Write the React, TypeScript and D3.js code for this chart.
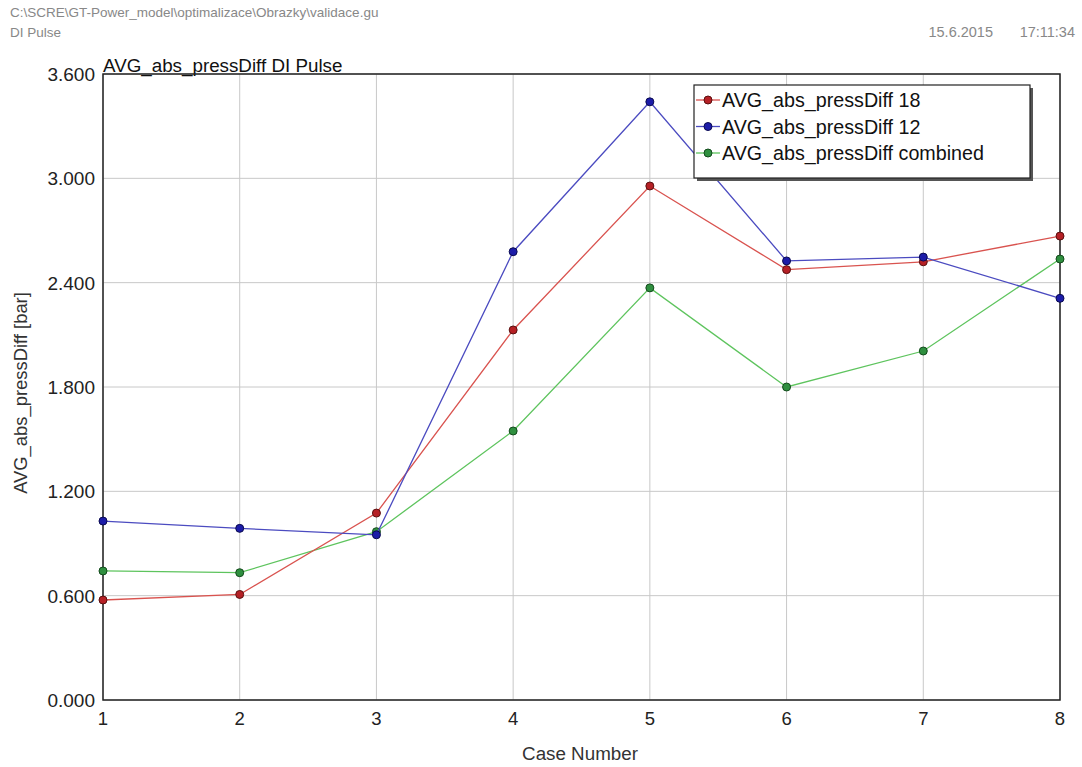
import React from "react";
import * as d3 from "d3";

const cases = [1, 2, 3, 4, 5, 6, 7, 8];
const series18 = [0.575, 0.607, 1.075, 2.128, 2.956, 2.475, 2.52, 2.668];
const series12 = [1.029, 0.987, 0.95, 2.578, 3.44, 2.525, 2.547, 2.31];
const seriesCombined = [0.742, 0.732, 0.968, 1.547, 2.37, 1.8, 2.007, 2.536];
const yTicks = [0, 0.6, 1.2, 1.8, 2.4, 3.0, 3.6];
const seriesNames = ["AVG_abs_pressDiff 18", "AVG_abs_pressDiff 12", "AVG_abs_pressDiff combined"];

const W = 1082;
const H = 767;
const left = 103, right = 1060, top = 74, bottom = 700;
const FONT = "Liberation Sans, Arial, sans-serif";

export default function App() {
  const x = d3.scaleLinear().domain([1, 8]).range([left, right]);
  const y = d3.scaleLinear().domain([0, 3.6]).range([bottom, top]);
  const line = d3.line<number>().x((_, i) => x(cases[i])).y((d) => y(d));

  const series = [
    { name: seriesNames[0], values: series18, line: "#d9534f", fill: "#b52025", stroke: "#5a1010" },
    { name: seriesNames[1], values: series12, line: "#4b4bc0", fill: "#1c1ca8", stroke: "#0a0a50" },
    { name: seriesNames[2], values: seriesCombined, line: "#5ec45e", fill: "#2f8f3f", stroke: "#134a1c" },
  ];
  const drawOrder = [2, 0, 1];

  const legX = 694, legY = 85, legW = 336, legH = 93;

  return (
    <svg width={W} height={H} style={{ position: "absolute", left: 0, top: 0, background: "#fff" }} fontFamily={FONT}>
      <rect x={0} y={0} width={W} height={H} fill="#fff" />
      <text x={10} y={17} fontSize={13.5} fill="#888">C:\SCRE\GT-Power_model\optimalizace\Obrazky\validace.gu</text>
      <text x={10} y={37} fontSize={13.5} fill="#888">DI Pulse</text>
      <text x={993} y={37} fontSize={14.5} fill="#888" textAnchor="end">15.6.2015</text>
      <text x={1075} y={37} fontSize={14.5} fill="#888" textAnchor="end">17:11:34</text>

      {/* grid */}
      {yTicks.map((t) => (
        <line key={"gy" + t} x1={left} x2={right} y1={y(t)} y2={y(t)} stroke="#c8c8c8" strokeWidth={1} />
      ))}
      {cases.map((c) => (
        <line key={"gx" + c} x1={x(c)} x2={x(c)} y1={top} y2={bottom} stroke="#c8c8c8" strokeWidth={1} />
      ))}

      {/* title */}
      <text x={left} y={72} fontSize={18.8} fill="#111">AVG_abs_pressDiff DI Pulse</text>

      {/* frame */}
      <rect x={left} y={top} width={right - left} height={bottom - top} fill="none" stroke="#222" strokeWidth={1.5} />

      {/* y tick labels */}
      {yTicks.map((t) => (
        <text key={"ty" + t} x={95} y={y(t) + 7} fontSize={19} textAnchor="end" fill="#222">
          {d3.format(".3f")(t)}
        </text>
      ))}
      {cases.map((c) => (
        <text key={"tx" + c} x={x(c)} y={725} fontSize={18.5} textAnchor="middle" fill="#222">
          {c}
        </text>
      ))}

      <text x={580} y={760} fontSize={18.8} textAnchor="middle" fill="#333">Case Number</text>
      <text transform={`translate(27,393) rotate(-90)`} fontSize={18.4} textAnchor="middle" fill="#333">
        AVG_abs_pressDiff [bar]
      </text>

      {/* series */}
      {drawOrder.map((si) => {
        const s = series[si];
        return (
          <g key={s.name}>
            <path d={line(s.values) || ""} fill="none" stroke={s.line} strokeWidth={1.3} />
            {s.values.map((v, i) => (
              <circle key={i} cx={x(cases[i])} cy={y(v)} r={4} fill={s.fill} stroke={s.stroke} strokeWidth={1} />
            ))}
          </g>
        );
      })}

      {/* legend */}
      <rect x={legX + 3} y={legY + 3} width={legW} height={legH} fill="#555" />
      <rect x={legX} y={legY} width={legW} height={legH} fill="#fff" stroke="#222" strokeWidth={1.2} />
      {series.map((s, i) => {
        const ly = 100 + i * 26.5;
        return (
          <g key={"leg" + i}>
            <line x1={legX + 2} x2={legX + 26} y1={ly} y2={ly} stroke={s.line} strokeWidth={1.3} />
            <circle cx={legX + 14} cy={ly} r={4} fill={s.fill} stroke={s.stroke} strokeWidth={1} />
            <text x={legX + 28} y={ly + 7} fontSize={19.7} fill="#111">{s.name}</text>
          </g>
        );
      })}
    </svg>
  );
}
